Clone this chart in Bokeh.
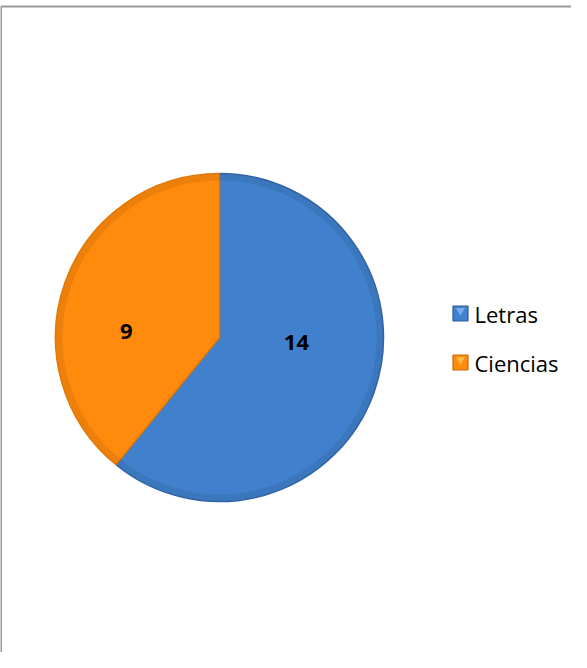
import math
from bokeh.plotting import figure
from bokeh.models import Range1d, ColumnDataSource
from bokeh.core.properties import value
from bokeh.embed import file_html
from bokeh.resources import INLINE

# ---- data ----
categories = ["Letras", "Ciencias"]
values = [14, 9]
colors = ["#4080CC", "#FF8A0C"]
edge_colors = ["#3363A6", "#E27A08"]
legend_dark = ["#2F5C96", "#C86A0A"]
legend_light = ["#7FB4F0", "#FFC24A"]

W, H = 571, 652
p = figure(width=W, height=H, output_backend="svg", toolbar_location=None,
           x_range=Range1d(0, W), y_range=Range1d(0, H), min_border=0)
p.axis.visible = False
p.grid.visible = False
p.outline_line_color = None
p.background_fill_color = "white"

# frame (chart area border, open at right and bottom as in reference)
p.line(x=[0.5, 0.5, W], y=[0, H - 6, H - 6], line_color="#9A9A9A", line_width=2)

# pie
cx, cy, r = 219, 315, 164
total = float(sum(values))
starts, ends, mids = [], [], []
a = math.pi / 2
for v in values:
    span = v / total * 2 * math.pi
    starts.append(a)
    ends.append(a - span)
    mids.append(a - span / 2)
    a -= span

src = ColumnDataSource(dict(x=[cx] * len(values), y=[cy] * len(values),
                            start=starts, end=ends, color=colors, edge=edge_colors))
p.wedge(x="x", y="y", radius=r, start_angle="start", end_angle="end",
        direction="clock", fill_color="color", line_color="edge", line_width=1.5,
        source=src)
# subtle bevel at the rim
p.annular_wedge(x="x", y="y", inner_radius=r - 7, outer_radius=r - 0.5,
                start_angle="start", end_angle="end", direction="clock",
                fill_color="black", fill_alpha=0.07, line_color=None, source=src)

# data labels
LABEL_ROT = math.radians(16)
LABEL_FRAC = [0.47, 0.57]
lx = [cx + r * f * math.cos(m + LABEL_ROT) for f, m in zip(LABEL_FRAC, mids)]
ly = [cy + r * f * math.sin(m + LABEL_ROT) for f, m in zip(LABEL_FRAC, mids)]
p.text(x=lx, y=ly, text=[str(v) for v in values], text_font=value("Open Sans"),
       text_font_style="bold", text_font_size="22px", text_align="center",
       text_baseline="middle", text_color="black")

# legend (drawn manually)
leg_x, leg_y0, leg_dy = 460, 339, 49
ly_leg = [leg_y0 - i * leg_dy for i in range(len(categories))]
p.rect(x=[leg_x] * len(categories), y=ly_leg, width=15, height=15,
       fill_color=colors, line_color=legend_dark, line_width=1.2)
p.scatter(x=[leg_x] * len(categories), y=[y + 3 for y in ly_leg], marker="inverted_triangle",
          size=9, fill_color=legend_light, line_color=None, fill_alpha=0.85)
p.text(x=[leg_x + 14] * len(categories), y=ly_leg, text=categories,
       text_font=value("Open Sans"), text_font_size="22px", text_align="left",
       text_baseline="middle", text_color="black")

open("out.html", "w").write(file_html(p, INLINE))
